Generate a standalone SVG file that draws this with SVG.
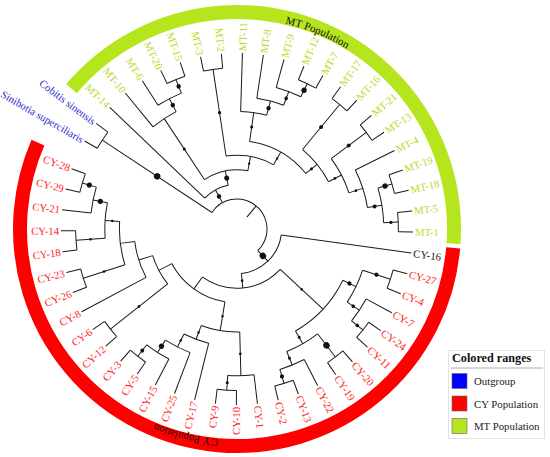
<svg xmlns="http://www.w3.org/2000/svg" width="550" height="457" viewBox="0 0 550 457">
<style>
.br line,.br circle{stroke:#1a1a1a;stroke-width:1;fill:none}
.bs circle{fill:#111;stroke:none}
text{font-family:"Liberation Serif","Times New Roman",serif}
.lf{font-size:10.7px}
.mt{fill:#bada2a}
.cy{fill:#ff1a1a}
.og{fill:#2a2ad0}
.k{fill:#111}
.e{text-anchor:end}
.band{fill:none;stroke-width:14}
.bt{font-size:11px;fill:#111}
.lg{font-size:10.8px;fill:#222}
</style>
<defs>
<path id="ring" d="M-211,0 A211,211 0 1 1 211,0 A211,211 0 1 1 -211,0"/>
</defs>
<rect width="550" height="457" fill="#fff"/>
<g transform="translate(237,229)">
<g id="ranges">
<circle class="band" r="217" stroke="#b5e61d" stroke-dasharray="543.49 3000" transform="rotate(-139.7)"/>
<circle class="band" r="217" stroke="#ff0000" stroke-dasharray="751.41 3000" transform="rotate(5)"/>
<text class="bt"><textPath href="#ring" startOffset="413.19" text-anchor="middle">MT Population</textPath></text>
<text class="bt"><textPath href="#ring" startOffset="1045.5" text-anchor="middle">CY Population</textPath></text>
</g>
<g id="branches" class="br">
<line x1="15.4" x2="30" transform="rotate(-50.229)"/>
<circle r="30" stroke-dasharray="100.89 3000" transform="rotate(-146.569)"/>
<line x1="30" x2="161.4" transform="rotate(-146.569)"/>
<circle r="161.4" stroke-dasharray="19.33 3000" transform="rotate(-150)"/>
<line x1="161.4" x2="176" transform="rotate(-150)"/>
<line x1="161.4" x2="176" transform="rotate(-143.137)"/>
<line x1="30" x2="44.6" transform="rotate(-118.849)"/>
<circle r="44.6" stroke-dasharray="27.13 3000" transform="rotate(-136.275)"/>
<line x1="44.6" x2="176" transform="rotate(-136.275)"/>
<line x1="44.6" x2="59.2" transform="rotate(-101.424)"/>
<circle r="59.2" stroke-dasharray="45.43 3000" transform="rotate(-123.407)"/>
<line x1="59.2" x2="132.2" transform="rotate(-123.407)"/>
<circle r="132.2" stroke-dasharray="27.71 3000" transform="rotate(-129.412)"/>
<line x1="132.2" x2="176" transform="rotate(-129.412)"/>
<line x1="132.2" x2="146.8" transform="rotate(-117.402)"/>
<circle r="146.8" stroke-dasharray="26.37 3000" transform="rotate(-122.549)"/>
<line x1="146.8" x2="176" transform="rotate(-122.549)"/>
<line x1="146.8" x2="161.4" transform="rotate(-112.255)"/>
<circle r="161.4" stroke-dasharray="19.33 3000" transform="rotate(-115.686)"/>
<line x1="161.4" x2="176" transform="rotate(-115.686)"/>
<line x1="161.4" x2="176" transform="rotate(-108.824)"/>
<line x1="59.2" x2="73.8" transform="rotate(-79.442)"/>
<circle r="73.8" stroke-dasharray="49.17 3000" transform="rotate(-98.529)"/>
<line x1="73.8" x2="161.4" transform="rotate(-98.529)"/>
<circle r="161.4" stroke-dasharray="19.33 3000" transform="rotate(-101.961)"/>
<line x1="161.4" x2="176" transform="rotate(-101.961)"/>
<line x1="161.4" x2="176" transform="rotate(-95.098)"/>
<line x1="73.8" x2="88.4" transform="rotate(-60.355)"/>
<circle r="88.4" stroke-dasharray="66.18 3000" transform="rotate(-81.802)"/>
<line x1="88.4" x2="117.6" transform="rotate(-81.802)"/>
<circle r="117.6" stroke-dasharray="26.41 3000" transform="rotate(-88.235)"/>
<line x1="117.6" x2="176" transform="rotate(-88.235)"/>
<line x1="117.6" x2="132.2" transform="rotate(-75.368)"/>
<circle r="132.2" stroke-dasharray="27.71 3000" transform="rotate(-81.373)"/>
<line x1="132.2" x2="176" transform="rotate(-81.373)"/>
<line x1="132.2" x2="146.8" transform="rotate(-69.363)"/>
<circle r="146.8" stroke-dasharray="26.37 3000" transform="rotate(-74.51)"/>
<line x1="146.8" x2="176" transform="rotate(-74.51)"/>
<line x1="146.8" x2="161.4" transform="rotate(-64.216)"/>
<circle r="161.4" stroke-dasharray="19.33 3000" transform="rotate(-67.647)"/>
<line x1="161.4" x2="176" transform="rotate(-67.647)"/>
<line x1="161.4" x2="176" transform="rotate(-60.784)"/>
<line x1="88.4" x2="103" transform="rotate(-38.909)"/>
<circle r="103" stroke-dasharray="41.64 3000" transform="rotate(-50.49)"/>
<line x1="103" x2="161.4" transform="rotate(-50.49)"/>
<circle r="161.4" stroke-dasharray="19.33 3000" transform="rotate(-53.922)"/>
<line x1="161.4" x2="176" transform="rotate(-53.922)"/>
<line x1="161.4" x2="176" transform="rotate(-47.059)"/>
<line x1="103" x2="117.6" transform="rotate(-27.328)"/>
<circle r="117.6" stroke-dasharray="38.74 3000" transform="rotate(-36.765)"/>
<line x1="117.6" x2="161.4" transform="rotate(-36.765)"/>
<circle r="161.4" stroke-dasharray="19.33 3000" transform="rotate(-40.196)"/>
<line x1="161.4" x2="176" transform="rotate(-40.196)"/>
<line x1="161.4" x2="176" transform="rotate(-33.333)"/>
<line x1="117.6" x2="132.2" transform="rotate(-17.892)"/>
<circle r="132.2" stroke-dasharray="39.59 3000" transform="rotate(-26.471)"/>
<line x1="132.2" x2="176" transform="rotate(-26.471)"/>
<line x1="132.2" x2="146.8" transform="rotate(-9.314)"/>
<circle r="146.8" stroke-dasharray="35.17 3000" transform="rotate(-16.176)"/>
<line x1="146.8" x2="161.4" transform="rotate(-16.176)"/>
<circle r="161.4" stroke-dasharray="19.33 3000" transform="rotate(-19.608)"/>
<line x1="161.4" x2="176" transform="rotate(-19.608)"/>
<line x1="161.4" x2="176" transform="rotate(-12.745)"/>
<line x1="146.8" x2="161.4" transform="rotate(-2.451)"/>
<circle r="161.4" stroke-dasharray="19.33 3000" transform="rotate(-5.882)"/>
<line x1="161.4" x2="176" transform="rotate(-5.882)"/>
<line x1="161.4" x2="176" transform="rotate(0.98)"/>
<line x1="30" x2="44.6" transform="rotate(46.111)"/>
<circle r="44.6" stroke-dasharray="59.58 3000" transform="rotate(7.843)"/>
<line x1="44.6" x2="176" transform="rotate(7.843)"/>
<line x1="44.6" x2="59.2" transform="rotate(84.379)"/>
<circle r="59.2" stroke-dasharray="85.48 3000" transform="rotate(43.015)"/>
<line x1="59.2" x2="117.6" transform="rotate(43.015)"/>
<circle r="117.6" stroke-dasharray="70.43 3000" transform="rotate(25.858)"/>
<line x1="117.6" x2="132.2" transform="rotate(25.858)"/>
<circle r="132.2" stroke-dasharray="35.63 3000" transform="rotate(18.137)"/>
<line x1="132.2" x2="161.4" transform="rotate(18.137)"/>
<circle r="161.4" stroke-dasharray="19.33 3000" transform="rotate(14.706)"/>
<line x1="161.4" x2="176" transform="rotate(14.706)"/>
<line x1="161.4" x2="176" transform="rotate(21.569)"/>
<line x1="132.2" x2="146.8" transform="rotate(33.578)"/>
<circle r="146.8" stroke-dasharray="26.37 3000" transform="rotate(28.431)"/>
<line x1="146.8" x2="176" transform="rotate(28.431)"/>
<line x1="146.8" x2="161.4" transform="rotate(38.725)"/>
<circle r="161.4" stroke-dasharray="19.33 3000" transform="rotate(35.294)"/>
<line x1="161.4" x2="176" transform="rotate(35.294)"/>
<line x1="161.4" x2="176" transform="rotate(42.157)"/>
<line x1="117.6" x2="132.2" transform="rotate(60.172)"/>
<circle r="132.2" stroke-dasharray="35.63 3000" transform="rotate(52.451)"/>
<line x1="132.2" x2="161.4" transform="rotate(52.451)"/>
<circle r="161.4" stroke-dasharray="19.33 3000" transform="rotate(49.02)"/>
<line x1="161.4" x2="176" transform="rotate(49.02)"/>
<line x1="161.4" x2="176" transform="rotate(55.882)"/>
<line x1="132.2" x2="146.8" transform="rotate(67.892)"/>
<circle r="146.8" stroke-dasharray="26.37 3000" transform="rotate(62.745)"/>
<line x1="146.8" x2="176" transform="rotate(62.745)"/>
<line x1="146.8" x2="161.4" transform="rotate(73.039)"/>
<circle r="161.4" stroke-dasharray="19.33 3000" transform="rotate(69.608)"/>
<line x1="161.4" x2="176" transform="rotate(69.608)"/>
<line x1="161.4" x2="176" transform="rotate(76.471)"/>
<line x1="59.2" x2="73.8" transform="rotate(125.743)"/>
<circle r="73.8" stroke-dasharray="67.82 3000" transform="rotate(99.418)"/>
<line x1="73.8" x2="103" transform="rotate(99.418)"/>
<circle r="103" stroke-dasharray="39.33 3000" transform="rotate(88.48)"/>
<line x1="103" x2="146.8" transform="rotate(88.48)"/>
<circle r="146.8" stroke-dasharray="26.37 3000" transform="rotate(83.333)"/>
<line x1="146.8" x2="176" transform="rotate(83.333)"/>
<line x1="146.8" x2="161.4" transform="rotate(93.627)"/>
<circle r="161.4" stroke-dasharray="19.33 3000" transform="rotate(90.196)"/>
<line x1="161.4" x2="176" transform="rotate(90.196)"/>
<line x1="161.4" x2="176" transform="rotate(97.059)"/>
<line x1="103" x2="117.6" transform="rotate(110.356)"/>
<circle r="117.6" stroke-dasharray="26.41 3000" transform="rotate(103.922)"/>
<line x1="117.6" x2="176" transform="rotate(103.922)"/>
<line x1="117.6" x2="132.2" transform="rotate(116.789)"/>
<circle r="132.2" stroke-dasharray="27.71 3000" transform="rotate(110.784)"/>
<line x1="132.2" x2="176" transform="rotate(110.784)"/>
<line x1="132.2" x2="146.8" transform="rotate(122.794)"/>
<circle r="146.8" stroke-dasharray="26.37 3000" transform="rotate(117.647)"/>
<line x1="146.8" x2="176" transform="rotate(117.647)"/>
<line x1="146.8" x2="161.4" transform="rotate(127.941)"/>
<circle r="161.4" stroke-dasharray="19.33 3000" transform="rotate(124.51)"/>
<line x1="161.4" x2="176" transform="rotate(124.51)"/>
<line x1="161.4" x2="176" transform="rotate(131.373)"/>
<line x1="73.8" x2="88.4" transform="rotate(152.069)"/>
<circle r="88.4" stroke-dasharray="32.1 3000" transform="rotate(141.667)"/>
<line x1="88.4" x2="161.4" transform="rotate(141.667)"/>
<circle r="161.4" stroke-dasharray="19.33 3000" transform="rotate(138.235)"/>
<line x1="161.4" x2="176" transform="rotate(138.235)"/>
<line x1="161.4" x2="176" transform="rotate(145.098)"/>
<line x1="88.4" x2="103" transform="rotate(162.47)"/>
<circle r="103" stroke-dasharray="37.78 3000" transform="rotate(151.961)"/>
<line x1="103" x2="176" transform="rotate(151.961)"/>
<line x1="103" x2="117.6" transform="rotate(172.978)"/>
<circle r="117.6" stroke-dasharray="44.02 3000" transform="rotate(162.255)"/>
<line x1="117.6" x2="161.4" transform="rotate(162.255)"/>
<circle r="161.4" stroke-dasharray="19.33 3000" transform="rotate(158.824)"/>
<line x1="161.4" x2="176" transform="rotate(158.824)"/>
<line x1="161.4" x2="176" transform="rotate(165.686)"/>
<line x1="117.6" x2="132.2" transform="rotate(183.701)"/>
<circle r="132.2" stroke-dasharray="35.63 3000" transform="rotate(175.98)"/>
<line x1="132.2" x2="161.4" transform="rotate(175.98)"/>
<circle r="161.4" stroke-dasharray="19.33 3000" transform="rotate(172.549)"/>
<line x1="161.4" x2="176" transform="rotate(172.549)"/>
<line x1="161.4" x2="176" transform="rotate(179.412)"/>
<line x1="132.2" x2="146.8" transform="rotate(191.422)"/>
<circle r="146.8" stroke-dasharray="26.37 3000" transform="rotate(186.275)"/>
<line x1="146.8" x2="176" transform="rotate(186.275)"/>
<line x1="146.8" x2="161.4" transform="rotate(196.569)"/>
<circle r="161.4" stroke-dasharray="19.33 3000" transform="rotate(193.137)"/>
<line x1="161.4" x2="176" transform="rotate(193.137)"/>
<line x1="161.4" x2="176" transform="rotate(200)"/>
</g>
<g id="support" class="bs">
<circle cx="95.7" r="3.2" transform="rotate(-146.569)"/>
<circle cx="37.3" r="2.2" transform="rotate(-118.849)"/>
<circle cx="51.9" r="2.5" transform="rotate(-101.424)"/>
<circle cx="95.7" r="1.5" transform="rotate(-123.407)"/>
<circle cx="139.5" r="2.2" transform="rotate(-117.402)"/>
<circle cx="154.1" r="2.2" transform="rotate(-112.255)"/>
<circle cx="117.6" r="1.6" transform="rotate(-98.529)"/>
<circle cx="66.5" r="1.2" transform="rotate(-79.442)"/>
<circle cx="81.1" r="1.2" transform="rotate(-60.355)"/>
<circle cx="103" r="1.5" transform="rotate(-81.802)"/>
<circle cx="124.9" r="2.2" transform="rotate(-75.368)"/>
<circle cx="139.5" r="1.8" transform="rotate(-69.363)"/>
<circle cx="154.1" r="2.7" transform="rotate(-64.216)"/>
<circle cx="95.7" r="1.5" transform="rotate(-38.909)"/>
<circle cx="132.2" r="2" transform="rotate(-50.49)"/>
<circle cx="110.3" r="1.4" transform="rotate(-27.328)"/>
<circle cx="139.5" r="2" transform="rotate(-36.765)"/>
<circle cx="124.9" r="1.4" transform="rotate(-17.892)"/>
<circle cx="139.5" r="2" transform="rotate(-9.314)"/>
<circle cx="154.1" r="2.7" transform="rotate(-16.176)"/>
<circle cx="154.1" r="1.6" transform="rotate(-2.451)"/>
<circle cx="37.3" r="3.2" transform="rotate(46.111)"/>
<circle cx="51.9" r="1.3" transform="rotate(84.379)"/>
<circle cx="88.4" r="1.3" transform="rotate(43.015)"/>
<circle cx="124.9" r="2.1" transform="rotate(25.858)"/>
<circle cx="146.8" r="2.1" transform="rotate(18.137)"/>
<circle cx="139.5" r="1.8" transform="rotate(33.578)"/>
<circle cx="154.1" r="1.8" transform="rotate(38.725)"/>
<circle cx="124.9" r="1.5" transform="rotate(60.172)"/>
<circle cx="146.8" r="3.2" transform="rotate(52.451)"/>
<circle cx="139.5" r="1.5" transform="rotate(67.892)"/>
<circle cx="154.1" r="2.1" transform="rotate(73.039)"/>
<circle cx="88.4" r="1.3" transform="rotate(99.418)"/>
<circle cx="124.9" r="1.3" transform="rotate(88.48)"/>
<circle cx="154.1" r="1.5" transform="rotate(93.627)"/>
<circle cx="110.3" r="1.3" transform="rotate(110.356)"/>
<circle cx="124.9" r="1.3" transform="rotate(116.789)"/>
<circle cx="139.5" r="2.6" transform="rotate(122.794)"/>
<circle cx="154.1" r="2" transform="rotate(127.941)"/>
<circle cx="124.9" r="1.4" transform="rotate(141.667)"/>
<circle cx="139.5" r="1.3" transform="rotate(162.255)"/>
<circle cx="146.8" r="1.3" transform="rotate(175.98)"/>
<circle cx="124.9" r="1.3" transform="rotate(183.701)"/>
<circle cx="139.5" r="2.6" transform="rotate(191.422)"/>
<circle cx="154.1" r="2.6" transform="rotate(196.569)"/>
</g>
<g id="leaves" class="lf">
<g id="leaf-Sinibotia"><text class="og e" x="-178" dy="0.35em" transform="rotate(30)">Sinibotia superciliaris</text></g>
<g id="leaf-Cobitis"><text class="og e" x="-178" dy="0.35em" transform="rotate(36.863)">Cobitis sinensis</text></g>
<g id="leaf-MT-14"><text class="mt e" x="-178" dy="0.35em" transform="rotate(43.725)">MT-14</text></g>
<g id="leaf-MT-10"><text class="mt e" x="-178" dy="0.35em" transform="rotate(50.588)">MT-10</text></g>
<g id="leaf-MT-6"><text class="mt e" x="-178" dy="0.35em" transform="rotate(57.451)">MT-6</text></g>
<g id="leaf-MT-20"><text class="mt e" x="-178" dy="0.35em" transform="rotate(64.314)">MT-20</text></g>
<g id="leaf-MT-15"><text class="mt e" x="-178" dy="0.35em" transform="rotate(71.176)">MT-15</text></g>
<g id="leaf-MT-3"><text class="mt e" x="-178" dy="0.35em" transform="rotate(78.039)">MT-3</text></g>
<g id="leaf-MT-2"><text class="mt e" x="-178" dy="0.35em" transform="rotate(84.902)">MT-2</text></g>
<g id="leaf-MT-11"><text class="mt" x="178" dy="0.35em" transform="rotate(-88.235)">MT-11</text></g>
<g id="leaf-MT-8"><text class="mt" x="178" dy="0.35em" transform="rotate(-81.373)">MT-8</text></g>
<g id="leaf-MT-9"><text class="mt" x="178" dy="0.35em" transform="rotate(-74.51)">MT-9</text></g>
<g id="leaf-MT-12"><text class="mt" x="178" dy="0.35em" transform="rotate(-67.647)">MT-12</text></g>
<g id="leaf-MT-7"><text class="mt" x="178" dy="0.35em" transform="rotate(-60.784)">MT-7</text></g>
<g id="leaf-MT-17"><text class="mt" x="178" dy="0.35em" transform="rotate(-53.922)">MT-17</text></g>
<g id="leaf-MT-16"><text class="mt" x="178" dy="0.35em" transform="rotate(-47.059)">MT-16</text></g>
<g id="leaf-MT-21"><text class="mt" x="178" dy="0.35em" transform="rotate(-40.196)">MT-21</text></g>
<g id="leaf-MT-13"><text class="mt" x="178" dy="0.35em" transform="rotate(-33.333)">MT-13</text></g>
<g id="leaf-MT-4"><text class="mt" x="178" dy="0.35em" transform="rotate(-26.471)">MT-4</text></g>
<g id="leaf-MT-19"><text class="mt" x="178" dy="0.35em" transform="rotate(-19.608)">MT-19</text></g>
<g id="leaf-MT-18"><text class="mt" x="178" dy="0.35em" transform="rotate(-12.745)">MT-18</text></g>
<g id="leaf-MT-5"><text class="mt" x="178" dy="0.35em" transform="rotate(-5.882)">MT-5</text></g>
<g id="leaf-MT-1"><text class="mt" x="178" dy="0.35em" transform="rotate(0.98)">MT-1</text></g>
<g id="leaf-CY-16"><text class="k" x="178" dy="0.35em" transform="rotate(7.843)">CY-16</text></g>
<g id="leaf-CY-27"><text class="cy" x="178" dy="0.35em" transform="rotate(14.706)">CY-27</text></g>
<g id="leaf-CY-4"><text class="cy" x="178" dy="0.35em" transform="rotate(21.569)">CY-4</text></g>
<g id="leaf-CY-7"><text class="cy" x="178" dy="0.35em" transform="rotate(28.431)">CY-7</text></g>
<g id="leaf-CY-24"><text class="cy" x="178" dy="0.35em" transform="rotate(35.294)">CY-24</text></g>
<g id="leaf-CY-11"><text class="cy" x="178" dy="0.35em" transform="rotate(42.157)">CY-11</text></g>
<g id="leaf-CY-20"><text class="cy" x="178" dy="0.35em" transform="rotate(49.02)">CY-20</text></g>
<g id="leaf-CY-19"><text class="cy" x="178" dy="0.35em" transform="rotate(55.882)">CY-19</text></g>
<g id="leaf-CY-22"><text class="cy" x="178" dy="0.35em" transform="rotate(62.745)">CY-22</text></g>
<g id="leaf-CY-13"><text class="cy" x="178" dy="0.35em" transform="rotate(69.608)">CY-13</text></g>
<g id="leaf-CY-2"><text class="cy" x="178" dy="0.35em" transform="rotate(76.471)">CY-2</text></g>
<g id="leaf-CY-1"><text class="cy" x="178" dy="0.35em" transform="rotate(83.333)">CY-1</text></g>
<g id="leaf-CY-10"><text class="cy e" x="-178" dy="0.35em" transform="rotate(-89.804)">CY-10</text></g>
<g id="leaf-CY-9"><text class="cy e" x="-178" dy="0.35em" transform="rotate(-82.941)">CY-9</text></g>
<g id="leaf-CY-17"><text class="cy e" x="-178" dy="0.35em" transform="rotate(-76.078)">CY-17</text></g>
<g id="leaf-CY-25"><text class="cy e" x="-178" dy="0.35em" transform="rotate(-69.216)">CY-25</text></g>
<g id="leaf-CY-15"><text class="cy e" x="-178" dy="0.35em" transform="rotate(-62.353)">CY-15</text></g>
<g id="leaf-CY-5"><text class="cy e" x="-178" dy="0.35em" transform="rotate(-55.49)">CY-5</text></g>
<g id="leaf-CY-3"><text class="cy e" x="-178" dy="0.35em" transform="rotate(-48.627)">CY-3</text></g>
<g id="leaf-CY-12"><text class="cy e" x="-178" dy="0.35em" transform="rotate(-41.765)">CY-12</text></g>
<g id="leaf-CY-6"><text class="cy e" x="-178" dy="0.35em" transform="rotate(-34.902)">CY-6</text></g>
<g id="leaf-CY-8"><text class="cy e" x="-178" dy="0.35em" transform="rotate(-28.039)">CY-8</text></g>
<g id="leaf-CY-26"><text class="cy e" x="-178" dy="0.35em" transform="rotate(-21.176)">CY-26</text></g>
<g id="leaf-CY-23"><text class="cy e" x="-178" dy="0.35em" transform="rotate(-14.314)">CY-23</text></g>
<g id="leaf-CY-18"><text class="cy e" x="-178" dy="0.35em" transform="rotate(-7.451)">CY-18</text></g>
<g id="leaf-CY-14"><text class="cy e" x="-178" dy="0.35em" transform="rotate(-0.588)">CY-14</text></g>
<g id="leaf-CY-21"><text class="cy e" x="-178" dy="0.35em" transform="rotate(6.275)">CY-21</text></g>
<g id="leaf-CY-29"><text class="cy e" x="-178" dy="0.35em" transform="rotate(13.137)">CY-29</text></g>
<g id="leaf-CY-28"><text class="cy e" x="-178" dy="0.35em" transform="rotate(20)">CY-28</text></g>
</g>
</g>
<g id="legend">
<rect x="448.5" y="350.5" width="96" height="88" fill="#fff" stroke="#e2e2e2"/>
<text x="452" y="362" font-size="12.2px" font-weight="bold" fill="#111">Colored ranges</text>
<line x1="451" y1="368" x2="543" y2="368" stroke="#999" stroke-width="0.8"/>
<rect x="452" y="373.5" width="15" height="15" fill="#0000ff" stroke="#666" stroke-width="0.6"/>
<text class="lg" x="474" y="385">Outgroup</text>
<rect x="452" y="396" width="15" height="15" fill="#ff0000" stroke="#666" stroke-width="0.6"/>
<text class="lg" x="474" y="407.5">CY Population</text>
<rect x="452" y="418.5" width="15" height="15" fill="#b5e61d" stroke="#666" stroke-width="0.6"/>
<text class="lg" x="474" y="430">MT Population</text>
</g>
</svg>
